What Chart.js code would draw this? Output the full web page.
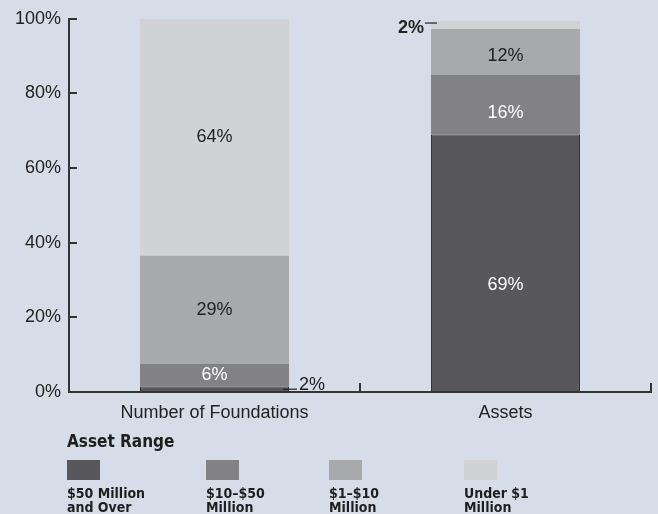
<!DOCTYPE html>
<html>
<head>
<meta charset="utf-8">
<script src="https://cdn.jsdelivr.net/npm/chart.js@4.4.1/dist/chart.umd.min.js"></script>
<style>
  html, body { margin: 0; padding: 0; background: #d6dde8; }
  #wrap { position: relative; width: 658px; height: 514px; overflow: hidden; }
  #chart { position: absolute; left: 0; top: 0; }
  #legendTitle {
    position: absolute; left: 67px; top: 431px;
    font: bold 17px "Liberation Sans Narrow", "DejaVu Sans Condensed", sans-serif;
    color: #1e1e1e;
  }
  .lg { position: absolute; top: 460px; }
  .lg .sw { width: 33px; height: 20px; }
  .lg .tx {
    margin-top: 6px;
    font: bold 14px/14px "Liberation Sans Narrow", "DejaVu Sans Condensed", sans-serif;
    color: #1e1e1e;
  }
</style>
</head>
<body>
<div id="wrap">
  <canvas id="chart" width="658" height="514"></canvas>
  <div id="legendTitle">Asset Range</div>
  <div id="legend"></div>
</div>
<script>
// ── DATA ─────────────────────────────────────────────────
const categories   = ["Number of Foundations", "Assets"];
const seriesNames  = [["$50 Million", "and Over"], ["$10\u2013$50", "Million"], ["$1\u2013$10", "Million"], ["Under $1", "Million"]];
const over50M      = [1.5, 69];
const from10to50M  = [6, 16];
const from1to10M   = [29, 12.3];
const under1M      = [63.5, 2.1];
const yTicks       = [0, 20, 40, 60, 80, 100];

const COLORS     = ["#58585a", "#828284", "#a8a9ab", "#d1d2d3"];
const LABEL_INK  = ["#ffffff", "#ffffff", "#222222", "#222222"];
const AXIS_INK   = "#333333";
const FONT       = "'Liberation Sans', Arial, sans-serif";
// labels in the Assets column sit a little below the band centre
const NUDGE      = [[0, 0, 0, 0], [22, 8, 4, 0]];

// ── LEGEND (html, below chart) ───────────────────────────
const legendX = [67, 206, 329, 464];
document.getElementById("legend").innerHTML = seriesNames.map((lines, i) =>
  `<div class="lg" style="left:${legendX[i]}px"><div class="sw" style="background:${COLORS[i]}"></div>` +
  `<div class="tx">${lines.join("<br>")}</div></div>`).join("");

// ── PLUGIN: inward ticks + bar labels ────────────────────
const decor = {
  id: "decor",
  afterDatasetsDraw(chart) {
    const { ctx, scales: { x, y }, chartArea: a } = chart;
    ctx.save();
    ctx.strokeStyle = AXIS_INK;
    ctx.lineWidth = 2;
    // y ticks pointing into the plot
    yTicks.forEach(v => {
      const py = Math.round(y.getPixelForValue(v));
      ctx.beginPath(); ctx.moveTo(a.left, py); ctx.lineTo(a.left + 8, py); ctx.stroke();
    });
    // x ticks between categories, pointing up
    for (let i = 1; i <= categories.length; i++) {
      const px = Math.round(x.getPixelForValue(i - 0.5));
      ctx.beginPath(); ctx.moveTo(px, a.bottom); ctx.lineTo(px, a.bottom - 9); ctx.stroke();
    }

    // value labels
    ctx.textBaseline = "middle";
    chart.data.datasets.forEach((ds, di) => {
      chart.getDatasetMeta(di).data.forEach((bar, ci) => {
        const v = ds.data[ci];
        const txt = Math.round(v) + "%";
        const midY = (bar.y + bar.base) / 2;
        if (v >= 3) {
          ctx.fillStyle = LABEL_INK[di];
          ctx.font = "18px " + FONT;
          ctx.textAlign = "center";
          ctx.fillText(txt, bar.x, midY + NUDGE[ci][di]);
          return;
        }
        // callout for thin bands
        ctx.strokeStyle = "#222";
        ctx.lineWidth = 1.2;
        ctx.fillStyle = "#222";
        if (ci === 0) {
          const r = bar.x + bar.width / 2;
          ctx.beginPath(); ctx.moveTo(r - 6, midY); ctx.lineTo(r + 8, midY); ctx.stroke();
          ctx.font = "18px " + FONT;
          ctx.textAlign = "left";
          ctx.fillText(txt, r + 10, midY - 4);
        } else {
          const l = bar.x - bar.width / 2;
          ctx.beginPath(); ctx.moveTo(l - 6, bar.y + 2); ctx.lineTo(l + 6, bar.y + 2); ctx.stroke();
          ctx.font = "bold 18px " + FONT;
          ctx.textAlign = "right";
          ctx.fillText(txt, l - 7, bar.y + 7);
        }
      });
    });
    ctx.restore();
  }
};

// ── CHART ────────────────────────────────────────────────
const seriesData = [over50M, from10to50M, from1to10M, under1M];

new Chart(document.getElementById("chart"), {
  type: "bar",
  data: {
    labels: categories,
    datasets: seriesData.map((d, i) => ({
      label:           seriesNames[i].join(" "),
      data:            d,
      backgroundColor: COLORS[i],
      borderColor:     "#333333",
      borderWidth:     i === 0 ? 1 : 0,
      borderSkipped:   false,
      barPercentage:   0.512,
      categoryPercentage: 1,
    })),
  },
  options: {
    responsive: false,
    animation:  false,
    layout: { padding: { left: 0, top: 18, right: 7, bottom: 0 } },
    plugins: { legend: { display: false }, tooltip: { enabled: false } },
    scales: {
      x: {
        stacked: true,
        grid:   { display: false, drawTicks: false },
        border: { display: true, color: AXIS_INK, width: 2 },
        ticks:  { color: "#222", font: { family: FONT, size: 18 }, padding: 10 },
        afterFit(s) { s.height = 122; },
      },
      y: {
        stacked: true,
        min: 0, max: 100,
        grid:   { display: false, drawTicks: false },
        border: { display: true, color: AXIS_INK, width: 2 },
        ticks:  {
          stepSize: 20,
          color: "#222",
          font: { family: FONT, size: 18 },
          padding: 8,
          callback: v => v + "%",
        },
        afterFit(s) { s.width = 69; },
      },
    },
  },
  plugins: [decor],
});
</script>
</body>
</html>
